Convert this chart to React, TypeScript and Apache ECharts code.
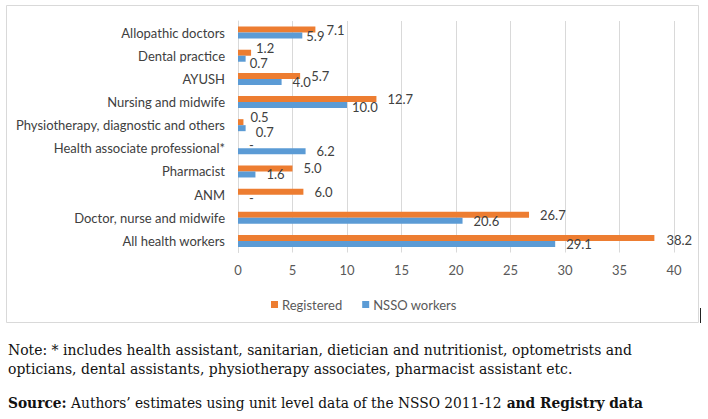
import React, { useEffect, useRef } from "react";
import * as echarts from "echarts";

const categories = [
  "Allopathic doctors",
  "Dental practice",
  "AYUSH",
  "Nursing and midwife",
  "Physiotherapy, diagnostic and others",
  "Health associate professional*",
  "Pharmacist",
  "ANM",
  "Doctor, nurse and midwife",
  "All health workers",
];
const registered: (number | null)[] = [7.1, 1.2, 5.7, 12.7, 0.5, null, 5.0, 6.0, 26.7, 38.2];
const nssoWorkers: (number | null)[] = [5.9, 0.7, 4.0, 10.0, 0.7, 6.2, 1.6, null, 20.6, 29.1];
const seriesNames = ["Registered", "NSSO workers"];
const xTicks = { min: 0, max: 40, interval: 5 };

const noteLines = [
  "Note: * includes health assistant, sanitarian, dietician and nutritionist, optometrists and",
  "opticians, dental assistants, physiotherapy associates, pharmacist assistant etc.",
];
const sourceParts: [string, boolean][] = [
  ["Source:", true],
  [" Authors\u2019 estimates using unit level data of the NSSO 2011-12 ", false],
  ["and Registry data", true],
];

const ORANGE = "#ED7D31";
const BLUE = "#5B9BD5";
const FONT = "Lato";
const SERIF = "DejaVu Serif";
const NOTE_SIZE = 14.5;

// per-label layout tweaks: [seriesIndex-categoryIndex] -> [distance, dy]
const labelTweaks: Record<string, [number, number]> = {
  "1-0": [4, 0],
  "0-1": [5, -5],
  "1-1": [4, 4],
  "1-3": [5, 2],
  "0-4": [7, -5],
  "1-4": [10, 4],
  "0-9": [12, 2],
};

function measure(text: string, bold: boolean): number {
  const c = document.createElement("canvas").getContext("2d")!;
  c.font = `${bold ? "bold " : ""}${NOTE_SIZE}px "${SERIF}"`;
  return c.measureText(text).width;
}

function buildData(vals: (number | null)[], si: number) {
  return vals.map((v, i) => {
    const tw = labelTweaks[`${si}-${i}`];
    const label: any = {};
    if (tw) {
      label.distance = tw[0];
      label.offset = [0, tw[1]];
    }
    if (v === null) {
      return { value: 0, label: { ...label, formatter: "-" } };
    }
    return { value: v, label };
  });
}

export default function App() {
  const ref = useRef<HTMLDivElement>(null);
  useEffect(() => {
    if (!ref.current) return;
    const chart = echarts.init(ref.current, null, { renderer: "svg" });

    const w1 = measure(noteLines[0], false);
    const w2 = measure(noteLines[1], false);
    const w3 = sourceParts.reduce((s, [t, b]) => s + measure(t, b), 0);

    const barLabel = {
      show: true,
      position: "right" as const,
      distance: 11,
      fontFamily: FONT,
      fontSize: 13,
      lineHeight: 13,
      color: "#404040",
      formatter: (p: any) => Number(p.value).toFixed(1),
    };

    chart.setOption({
      animation: false,
      textStyle: { fontFamily: FONT },
      grid: { left: 238, right: 34, top: 21, bottom: 166.5, containLabel: false },
      legend: {
        data: seriesNames,
        left: 266,
        top: 293,
        itemWidth: 7,
        itemHeight: 7,
        itemGap: 20,
        icon: "rect",
        textStyle: { fontFamily: FONT, fontSize: 13, color: "#595959", padding: [0, 0, 0, -1] },
      },
      xAxis: {
        type: "value",
        min: xTicks.min,
        max: xTicks.max,
        interval: xTicks.interval,
        axisLine: { show: false },
        axisTick: { show: false },
        splitLine: { lineStyle: { color: "#d9d9d9", width: 1 } },
        axisLabel: { color: "#595959", fontSize: 13, margin: 11, fontFamily: FONT },
      },
      yAxis: {
        type: "category",
        data: categories,
        inverse: true,
        axisLine: { show: true, lineStyle: { color: "#d9d9d9" } },
        axisTick: { show: false },
        axisLabel: { color: "#404040", fontSize: 13, margin: 13, fontFamily: FONT },
      },
      series: [
        {
          name: seriesNames[0],
          type: "bar",
          data: buildData(registered, 0),
          itemStyle: { color: ORANGE },
          barWidth: 6,
          barGap: "0%",
          label: barLabel,
        },
        {
          name: seriesNames[1],
          type: "bar",
          data: buildData(nssoWorkers, 1),
          itemStyle: { color: BLUE },
          barWidth: 6,
          barGap: "0%",
          label: barLabel,
        },
      ],
      graphic: [
        {
          type: "rect",
          shape: { x: 6.5, y: 5.5, width: 692, height: 317 },
          style: { fill: "none", stroke: "#d9d9d9", lineWidth: 1 },
          silent: true,
        },
        {
          type: "line",
          shape: { x1: 700.5, y1: 308, x2: 700.5, y2: 323 },
          style: { stroke: "#222", lineWidth: 1 },
          silent: true,
        },
        {
          type: "text",
          x: 8,
          y: 350,
          scaleX: 625 / w1,
          style: {
            text: noteLines[0],
            font: `${NOTE_SIZE}px "${SERIF}"`,
            fill: "#111",
            verticalAlign: "middle",
          },
        },
        {
          type: "text",
          x: 8,
          y: 368.5,
          scaleX: 565 / w2,
          style: {
            text: noteLines[1],
            font: `${NOTE_SIZE}px "${SERIF}"`,
            fill: "#111",
            verticalAlign: "middle",
          },
        },
        {
          type: "text",
          x: 8,
          y: 403,
          scaleX: 635 / w3,
          style: {
            text: sourceParts.map(([t, b]) => `{${b ? "b" : "n"}|${t}}`).join(""),
            fill: "#111",
            verticalAlign: "middle",
            rich: {
              b: { fontFamily: SERIF, fontSize: NOTE_SIZE, fontWeight: "bold", fill: "#111" },
              n: { fontFamily: SERIF, fontSize: NOTE_SIZE, fill: "#111" },
            },
          },
        },
      ],
    });
    return () => chart.dispose();
  }, []);
  return (
    <div
      ref={ref}
      style={{ position: "fixed", left: 0, top: 0, width: 708, height: 419, background: "#fff" }}
    />
  );
}
